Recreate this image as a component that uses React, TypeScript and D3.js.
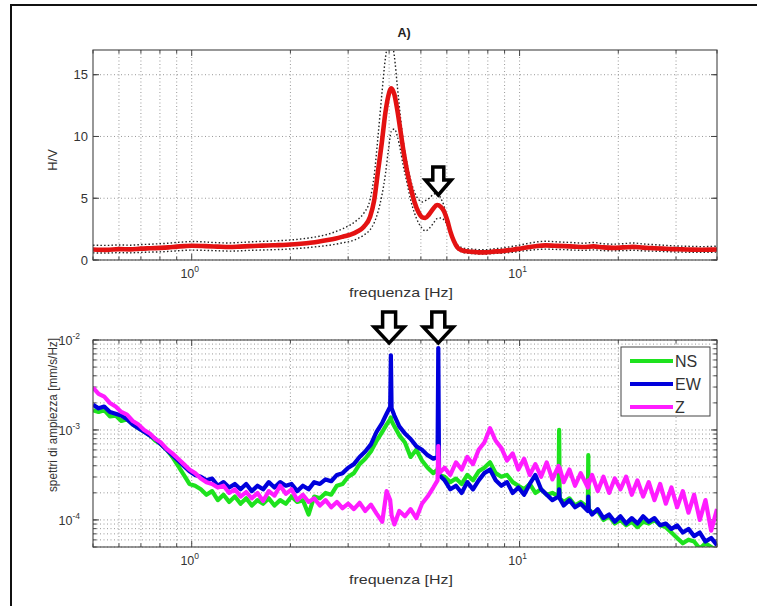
import React, { useEffect, useRef } from 'react'
import * as d3 from 'd3'

// H/V curve (top panel)
const hvFreq = [
  0.5, 0.55, 0.6, 0.65, 0.7, 0.75, 0.8, 0.85, 0.9, 0.95,
  1.0, 1.1, 1.2, 1.3, 1.4, 1.5, 1.6, 1.7, 1.8, 1.9,
  2.0, 2.15, 2.3, 2.45, 2.6, 2.75, 2.9, 3.05, 3.2, 3.35,
  3.5, 3.6, 3.7, 3.8, 3.9, 3.98, 4.06, 4.15, 4.24, 4.33,
  4.42, 4.53, 4.65, 4.78, 4.92, 5.05, 5.16, 5.3, 5.45, 5.6,
  5.75, 5.88, 6.02, 6.15, 6.3, 6.45, 6.65, 6.9, 7.2, 7.5,
  7.9, 8.3, 8.8, 9.3, 9.9, 10.5, 11.2, 12.0, 12.8, 13.7,
  14.7, 15.7, 16.8, 18.0, 19.3, 20.7, 22.2, 23.8, 25.5, 27.3,
  29.3, 31.4, 33.6, 36.0, 38.5, 40.0,
]
const hvMean = [
  0.85, 0.82, 0.88, 0.86, 0.92, 0.95, 0.98, 1.02, 1.08, 1.12,
  1.15, 1.12, 1.08, 1.05, 1.08, 1.12, 1.15, 1.18, 1.2, 1.22,
  1.25, 1.32, 1.4, 1.5, 1.62, 1.75, 1.9, 2.05, 2.3, 2.7,
  3.5, 4.8, 7.2, 9.5, 12.0, 13.3, 13.9, 13.4, 12.1, 10.5,
  8.9, 7.3, 5.9, 4.7, 3.85, 3.45, 3.4, 3.7, 4.15, 4.45,
  4.3, 3.95, 3.2, 2.3, 1.55, 1.05, 0.8, 0.7, 0.66, 0.62,
  0.62, 0.68, 0.72, 0.8, 0.9, 1.02, 1.12, 1.18, 1.15, 1.12,
  1.08, 1.05, 1.1, 1.02, 0.98, 1.02, 1.06, 1.0, 0.96, 0.92,
  0.88, 0.86, 0.84, 0.83, 0.84, 0.85,
]
const hvUpper = [
  1.2, 1.18, 1.22, 1.2, 1.25, 1.28, 1.32, 1.36, 1.42, 1.46,
  1.5, 1.46, 1.4, 1.38, 1.42, 1.46, 1.5, 1.52, 1.55, 1.58,
  1.62, 1.7, 1.8, 1.92, 2.08, 2.3, 2.55, 2.85, 3.25, 3.8,
  4.9, 6.8, 10.0, 13.4, 16.4, 17.6, 17.8, 16.5, 14.0, 11.6,
  9.6, 7.9, 6.5, 5.5, 4.9, 4.7, 4.8, 5.0, 5.3, 5.4,
  5.0, 4.4, 3.4, 2.4, 1.7, 1.25, 1.02, 0.92, 0.88, 0.84,
  0.84, 0.9, 0.96, 1.06, 1.18, 1.32, 1.45, 1.52, 1.48, 1.44,
  1.4, 1.36, 1.42, 1.32, 1.28, 1.32, 1.38, 1.3, 1.25, 1.2,
  1.15, 1.12, 1.1, 1.08, 1.1, 1.12,
]
const hvLower = [
  0.58, 0.56, 0.6, 0.58, 0.62, 0.64, 0.66, 0.7, 0.74, 0.78,
  0.8, 0.78, 0.75, 0.72, 0.74, 0.78, 0.8, 0.82, 0.84, 0.86,
  0.9, 0.95, 1.02, 1.1, 1.18, 1.28, 1.4, 1.52, 1.72, 2.02,
  2.45, 3.0, 3.9, 5.2, 7.0, 8.9, 10.4, 10.6, 10.0, 8.9,
  7.6, 6.3, 4.9, 3.8, 3.0, 2.55, 2.35, 2.55, 2.95, 3.35,
  3.4, 3.25, 2.8, 2.1, 1.4, 0.92, 0.66, 0.56, 0.52, 0.48,
  0.48, 0.52, 0.55, 0.6, 0.68, 0.76, 0.84, 0.88, 0.86, 0.84,
  0.8, 0.78, 0.82, 0.76, 0.74, 0.76, 0.79, 0.74, 0.72, 0.69,
  0.66, 0.64, 0.62, 0.62, 0.63, 0.64,
]
const hvTicks = [0, 5, 10, 15]

// amplitude spectra (bottom panel), values are log10 of mm/s/Hz
const specFreq = [
  0.5, 0.52, 0.541, 0.563, 0.586, 0.61, 0.635, 0.661, 0.688, 0.716,
  0.745, 0.775, 0.806, 0.839, 0.873, 0.909, 0.946, 0.984, 1.024, 1.066,
  1.109, 1.154, 1.201, 1.25, 1.301, 1.354, 1.409, 1.466, 1.525, 1.587,
  1.651, 1.718, 1.788, 1.861, 1.937, 2.016, 2.098, 2.183, 2.272, 2.364,
  2.46, 2.56, 2.664, 2.772, 2.885, 3.002, 3.124, 3.251, 3.383, 3.52,
  3.663, 3.812, 3.93, 4.03, 4.05, 4.07, 4.15, 4.296, 4.47, 4.652,
  4.841, 5.038, 5.242, 5.455, 5.62, 5.65, 5.68, 5.907, 6.147, 6.397,
  6.657, 6.927, 7.209, 7.502, 7.807, 8.124, 8.454, 8.797, 9.155, 9.527,
  9.914, 10.32, 10.74, 11.17, 11.63, 12.1, 12.59, 13.15, 13.2, 13.25,
  13.63, 14.19, 14.76, 15.36, 16.15, 16.2, 16.25, 16.64, 17.31, 18.02,
  18.75, 19.51, 20.3, 21.13, 21.98, 22.88, 23.81, 24.77, 25.78, 26.83,
  27.92, 29.05, 30.23, 31.46, 32.74, 34.06, 35.45, 36.89, 38.39, 40.0,
]
const nsLog = [
  -2.78, -2.8, -2.78, -2.85, -2.84, -2.9, -2.88, -2.94, -2.98, -3.02,
  -3.06, -3.12, -3.16, -3.22, -3.3, -3.4, -3.5, -3.6, -3.62, -3.66,
  -3.72, -3.68, -3.78, -3.72, -3.8, -3.74, -3.82, -3.76, -3.84, -3.78,
  -3.82, -3.76, -3.84, -3.78, -3.82, -3.74, -3.8, -3.78, -3.94, -3.74,
  -3.76, -3.7, -3.72, -3.62, -3.6, -3.52, -3.48, -3.38, -3.32, -3.24,
  -3.12, -3.02, -2.94, -2.88, -2.86, -2.9, -2.96, -3.06, -3.14, -3.3,
  -3.22, -3.34, -3.42, -3.48, -3.44, -3.4, -3.5, -3.52, -3.58, -3.54,
  -3.6, -3.5, -3.56, -3.46, -3.42, -3.36, -3.48, -3.52, -3.5, -3.58,
  -3.62, -3.66, -3.6, -3.7, -3.66, -3.72, -3.7, -3.74, -3.0, -3.76,
  -3.8, -3.76, -3.84, -3.8, -3.86, -3.28, -3.88, -3.92, -3.9, -4.0,
  -3.96, -4.04, -4.0, -4.06, -4.02, -4.08, -4.02, -4.04, -4.0, -4.06,
  -4.08, -4.14, -4.2, -4.26, -4.22, -4.24, -4.32, -4.26, -4.3, -4.34,
]
const ewLog = [
  -2.72, -2.76, -2.74, -2.8, -2.82, -2.84, -2.88, -2.94, -2.98, -3.02,
  -3.06, -3.1, -3.16, -3.22, -3.28, -3.34, -3.4, -3.46, -3.5, -3.52,
  -3.56, -3.54, -3.62, -3.58, -3.64, -3.6, -3.66, -3.6, -3.68, -3.62,
  -3.66, -3.58, -3.64, -3.58, -3.62, -3.6, -3.68, -3.62, -3.66, -3.58,
  -3.6, -3.55, -3.57, -3.5, -3.48, -3.42, -3.38, -3.3, -3.24, -3.16,
  -3.02, -2.92, -2.82, -2.74, -2.17, -2.76, -2.84, -2.96, -3.04, -3.1,
  -3.18, -3.22, -3.28, -3.32, -3.3, -2.09, -3.5, -3.56, -3.66, -3.62,
  -3.7, -3.58, -3.66, -3.56, -3.48, -3.44, -3.56, -3.62, -3.58, -3.7,
  -3.64, -3.72, -3.6, -3.5, -3.66, -3.72, -3.78, -3.74, -3.66, -3.76,
  -3.84, -3.78, -3.86, -3.82, -3.9, -3.74, -3.88, -3.94, -3.88, -3.98,
  -3.94, -4.02, -3.96, -4.04, -3.98, -4.04, -3.96, -4.02, -3.98, -4.06,
  -4.04, -4.1, -4.06, -4.14, -4.1, -4.18, -4.14, -4.24, -4.2, -4.28,
]
const zLog = [
  -2.53, -2.6, -2.63, -2.7, -2.74, -2.8, -2.83, -2.9, -2.94, -3.0,
  -3.04, -3.1, -3.14, -3.21, -3.26, -3.32, -3.38, -3.44, -3.48, -3.54,
  -3.58, -3.6, -3.64, -3.62, -3.7, -3.66, -3.74, -3.69, -3.76, -3.7,
  -3.79, -3.68, -3.73, -3.62, -3.71, -3.66, -3.78, -3.72, -3.8, -3.76,
  -3.84, -3.78, -3.86, -3.8, -3.87, -3.82, -3.88, -3.81, -3.9, -3.83,
  -3.93, -4.02, -3.68, -3.78, -3.86, -3.95, -4.05, -3.9, -3.96, -3.88,
  -3.98, -3.82, -3.74, -3.64, -3.56, -3.18, -3.48, -3.42, -3.5, -3.36,
  -3.44, -3.3, -3.38, -3.22, -3.14, -2.98, -3.12, -3.2, -3.34, -3.26,
  -3.44, -3.32, -3.5, -3.38, -3.52, -3.36, -3.55, -3.4, -3.46, -3.42,
  -3.58, -3.44, -3.62, -3.48, -3.64, -3.56, -3.6, -3.5, -3.68, -3.52,
  -3.7, -3.54, -3.66, -3.52, -3.72, -3.56, -3.74, -3.58, -3.78, -3.6,
  -3.82, -3.64, -3.86, -3.68, -3.92, -3.72, -4.0, -3.78, -4.12, -3.88,
]
const specSeries = [
  { name: 'NS', color: '#1ee21e', values: nsLog },
  { name: 'EW', color: '#0000dc', values: ewLog },
  { name: 'Z', color: '#ff1cff', values: zLog },
]
const specMajor = [1e-4, 1e-3, 1e-2]
const freqMajor = [1, 10]
const arrowsTop = [5.65]
const arrowsBottom = [4.0, 5.65]

const FONT = '"Liberation Sans", Arial, sans-serif'

const App: React.FC = () => {
  const svgRef = useRef<SVGSVGElement>(null)

  useEffect(() => {
    const svg = d3.select(svgRef.current)
    svg.selectAll('*').remove()

    const x = d3.scaleLog().domain([0.5, 40]).range([93, 717])
    const yHv = d3.scaleLinear().domain([0, 17]).range([260, 50])
    const ySp = d3.scaleLog().domain([5e-5, 1e-2]).range([547, 340])

    // outer frame (only top and left visible)
    svg
      .append('path')
      .attr('d', 'M11,606 V5 H757')
      .attr('fill', 'none')
      .attr('stroke', '#111')
      .attr('stroke-width', 2)

    const sup = (
      g: d3.Selection<SVGGElement, unknown, null, undefined>,
      px: number,
      py: number,
      exp: string,
      anchor: string,
    ) => {
      const t = g
        .append('text')
        .attr('x', px)
        .attr('y', py)
        .attr('text-anchor', anchor)
        .attr('font-size', 12.5)
        .attr('fill', '#333')
      t.append('tspan').text('10')
      t.append('tspan').attr('dy', -6).attr('font-size', 8.5).text(exp)
    }

    const drawPanel = (
      yScale: any,
      yGrid: number[],
      yMinorTicks: number[],
      top: number,
      bottom: number,
      id: string,
    ) => {
      const g = svg.append('g')
      g.append('rect')
        .attr('x', 93)
        .attr('y', top)
        .attr('width', 624)
        .attr('height', bottom - top)
        .attr('fill', '#fff')

      const xt = x.ticks()
      g.selectAll('.vgrid')
        .data(xt.filter((d) => d > 0.5 && d < 40))
        .enter()
        .append('line')
        .attr('x1', (d) => x(d))
        .attr('x2', (d) => x(d))
        .attr('y1', top)
        .attr('y2', bottom)
        .attr('stroke', '#8c8c8c')
        .attr('stroke-width', 0.9)
        .attr('stroke-dasharray', '1,2.5')

      g.selectAll('.hgrid')
        .data(yGrid)
        .enter()
        .append('line')
        .attr('x1', 93)
        .attr('x2', 717)
        .attr('y1', (d) => yScale(d))
        .attr('y2', (d) => yScale(d))
        .attr('stroke', '#8c8c8c')
        .attr('stroke-width', 0.9)
        .attr('stroke-dasharray', '1,2.5')

      // x ticks, inward, bottom and top
      xt.forEach((d) => {
        const len = freqMajor.includes(d) ? 6 : 3.5
        const px = x(d)
        g.append('line').attr('x1', px).attr('x2', px).attr('y1', bottom).attr('y2', bottom - len).attr('stroke', '#444')
        g.append('line').attr('x1', px).attr('x2', px).attr('y1', top).attr('y2', top + len).attr('stroke', '#444')
      })
      yMinorTicks.forEach((d) => {
        const py = yScale(d)
        g.append('line').attr('x1', 93).attr('x2', 96.5).attr('y1', py).attr('y2', py).attr('stroke', '#444')
        g.append('line').attr('x1', 717).attr('x2', 713.5).attr('y1', py).attr('y2', py).attr('stroke', '#444')
      })

      g.append('clipPath')
        .attr('id', id)
        .append('rect')
        .attr('x', 93)
        .attr('y', top)
        .attr('width', 624)
        .attr('height', bottom - top)

      freqMajor.forEach((d, i) => sup(g, x(d) - 2, bottom + 18, String(i), 'middle'))

      g.append('text')
        .attr('x', 401)
        .attr('y', bottom + 37)
        .attr('text-anchor', 'middle')
        .attr('font-size', 13)
        .attr('textLength', 104)
        .attr('lengthAdjust', 'spacingAndGlyphs')
        .attr('fill', '#333')
        .text('frequenza [Hz]')
      return g
    }

    // ---------- top panel: H/V ----------
    const gTop = drawPanel(yHv, hvTicks, hvTicks, 50, 260, 'clipTop')
    gTop
      .selectAll('.ytl')
      .data(hvTicks)
      .enter()
      .append('text')
      .attr('x', 88)
      .attr('y', (d) => yHv(d) + 4.5)
      .attr('text-anchor', 'end')
      .attr('font-size', 13)
      .attr('fill', '#333')
      .text((d) => String(d))
    hvTicks.forEach((d) => {
      gTop.append('line').attr('x1', 93).attr('x2', 99).attr('y1', yHv(d)).attr('y2', yHv(d)).attr('stroke', '#444')
      gTop.append('line').attr('x1', 717).attr('x2', 711).attr('y1', yHv(d)).attr('y2', yHv(d)).attr('stroke', '#444')
    })

    const hvLine = (vals: number[]) =>
      d3
        .line<number>()
        .x((_, i) => x(hvFreq[i]))
        .y((d) => yHv(d))
        .curve(d3.curveMonotoneX)(vals)

    const plotTop = gTop.append('g').attr('clip-path', 'url(#clipTop)')
    ;[hvUpper, hvLower].forEach((vals) => {
      plotTop
        .append('path')
        .attr('d', hvLine(vals))
        .attr('fill', 'none')
        .attr('stroke', '#222')
        .attr('stroke-width', 1.4)
        .attr('stroke-dasharray', '1.5,2.2')
    })
    plotTop
      .append('path')
      .attr('d', hvLine(hvMean))
      .attr('fill', 'none')
      .attr('stroke', '#e41212')
      .attr('stroke-width', 4.6)
      .attr('stroke-linejoin', 'round')

    gTop
      .append('rect')
      .attr('x', 93)
      .attr('y', 50)
      .attr('width', 624)
      .attr('height', 210)
      .attr('fill', 'none')
      .attr('stroke', '#444')
      .attr('stroke-width', 1.1)

    gTop
      .append('text')
      .attr('x', 57)
      .attr('y', 160)
      .attr('transform', 'rotate(-90,57,160)')
      .attr('text-anchor', 'middle')
      .attr('font-size', 13)
      .attr('fill', '#333')
      .text('H/V')

    svg
      .append('text')
      .attr('x', 404)
      .attr('y', 37)
      .attr('text-anchor', 'middle')
      .attr('font-size', 12.5)
      .attr('font-weight', 'bold')
      .attr('fill', '#222')
      .text('A)')

    // ---------- bottom panel: spectra ----------
    const spTicks = ySp.ticks()
    const gBot = drawPanel(ySp, spTicks, spTicks, 340, 547, 'clipBot')
    specMajor.forEach((d) => {
      gBot.append('line').attr('x1', 93).attr('x2', 99).attr('y1', ySp(d)).attr('y2', ySp(d)).attr('stroke', '#444')
      gBot.append('line').attr('x1', 717).attr('x2', 711).attr('y1', ySp(d)).attr('y2', ySp(d)).attr('stroke', '#444')
      sup(gBot, 80, ySp(d) + 5, String(Math.round(Math.log10(d))), 'end')
    })

    const plotBot = gBot.append('g').attr('clip-path', 'url(#clipBot)')
    const spLine = d3
      .line<number>()
      .x((_, i) => x(specFreq[i]))
      .y((d) => ySp(Math.pow(10, d)))
    specSeries.forEach((s) => {
      plotBot
        .append('path')
        .attr('d', spLine(s.values))
        .attr('fill', 'none')
        .attr('stroke', s.color)
        .attr('stroke-width', 4.2)
        .attr('stroke-linejoin', 'round')
    })

    gBot
      .append('rect')
      .attr('x', 93)
      .attr('y', 340)
      .attr('width', 624)
      .attr('height', 207)
      .attr('fill', 'none')
      .attr('stroke', '#444')
      .attr('stroke-width', 1.1)

    gBot
      .append('text')
      .attr('x', 57)
      .attr('y', 415)
      .attr('transform', 'rotate(-90,57,415)')
      .attr('text-anchor', 'middle')
      .attr('font-size', 12.5)
      .attr('textLength', 154)
      .attr('lengthAdjust', 'spacingAndGlyphs')
      .attr('fill', '#333')
      .text('spettri di ampiezza [mm/s/Hz]')

    // legend
    const lg = gBot.append('g')
    lg.append('rect')
      .attr('x', 621)
      .attr('y', 347)
      .attr('width', 89)
      .attr('height', 69)
      .attr('fill', '#fff')
      .attr('stroke', '#444')
      .attr('stroke-width', 1)
    specSeries.forEach((s, i) => {
      const ly = 361 + i * 23
      lg.append('line')
        .attr('x1', 630)
        .attr('x2', 673)
        .attr('y1', ly)
        .attr('y2', ly)
        .attr('stroke', s.color)
        .attr('stroke-width', 4)
      lg.append('text')
        .attr('x', 675)
        .attr('y', ly + 6)
        .attr('font-size', 16)
        .attr('fill', '#333')
        .text(s.name)
    })

    // hollow arrows marking peaks
    const arrow = (cx: number, y0: number, y1: number, head: number, shaft: number, headLen: number) => {
      const hb = y1 - headLen
      return `M${cx - shaft},${y0} H${cx + shaft} V${hb} H${cx + head} L${cx},${y1} L${cx - head},${hb} H${cx - shaft} Z`
    }
    arrowsTop.forEach((f) => {
      svg
        .append('path')
        .attr('d', arrow(x(f), 167, 195, 13, 5.5, 15))
        .attr('fill', '#fff')
        .attr('stroke', '#000')
        .attr('stroke-width', 3.5)
        .attr('stroke-linejoin', 'miter')
    })
    arrowsBottom.forEach((f) => {
      svg
        .append('path')
        .attr('d', arrow(x(f), 312, 343, 15, 6.5, 16))
        .attr('fill', '#fff')
        .attr('stroke', '#000')
        .attr('stroke-width', 3.5)
        .attr('stroke-linejoin', 'miter')
    })
  }, [])

  return (
    <div style={{ position: 'absolute', left: 0, top: 0 }}>
      <svg
        ref={svgRef}
        width={757}
        height={606}
        style={{ display: 'block', background: '#fff', fontFamily: FONT }}
      ></svg>
    </div>
  )
}

export default App
